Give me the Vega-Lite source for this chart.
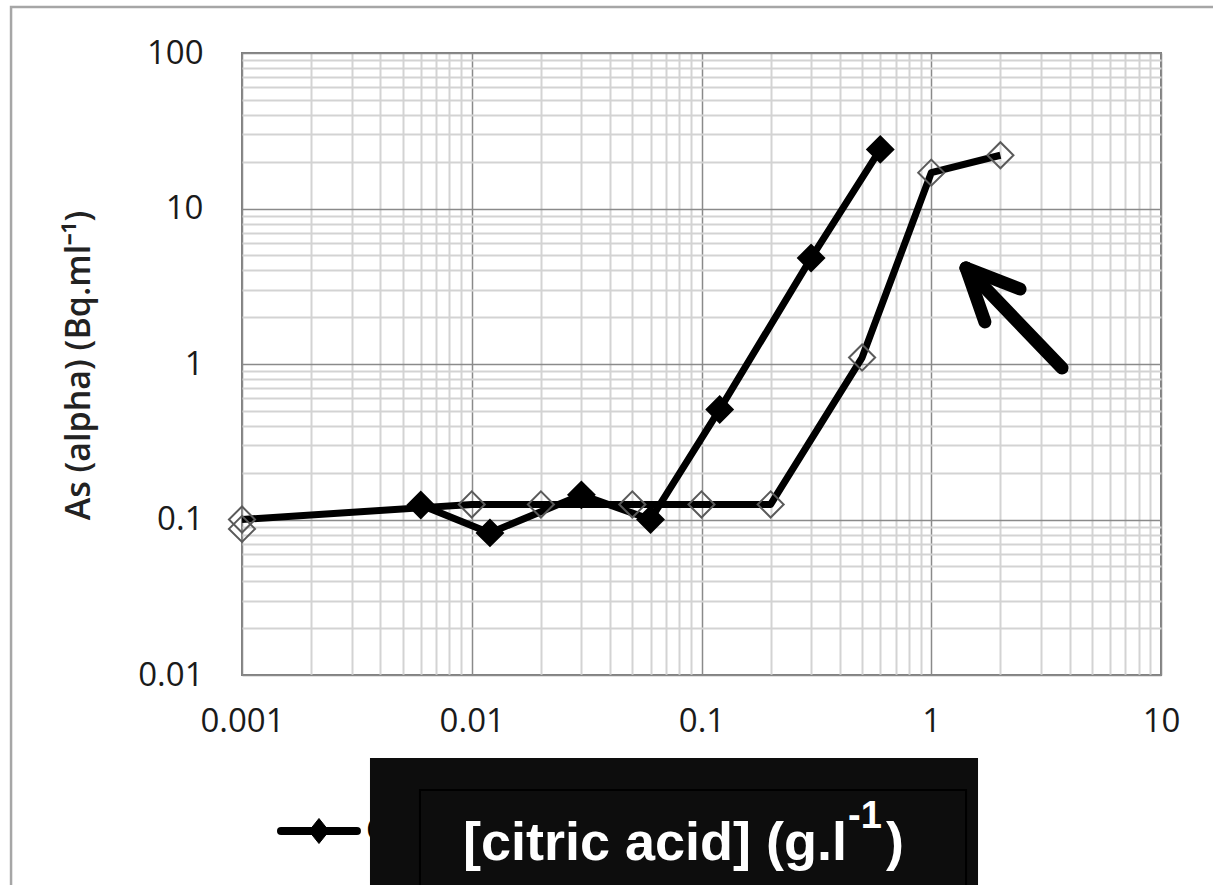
{
  "$schema": "https://vega.github.io/schema/vega-lite/v6.json",
  "width": 919,
  "height": 622,
  "autosize": {"type": "none"},
  "padding": {"left": 242, "top": 53, "right": 52, "bottom": 210},
  "background": "white",
  "config": {
    "view": {"stroke": "#7f7f7f", "strokeWidth": 2}
  },
  "datasets": {
    "pts": [
      {"series": "C1", "x": 0.006, "y": 0.124},
      {"series": "C1", "x": 0.012, "y": 0.082},
      {"series": "C1", "x": 0.03, "y": 0.144},
      {"series": "C1", "x": 0.06, "y": 0.1},
      {"series": "C1", "x": 0.12, "y": 0.51},
      {"series": "C1", "x": 0.3, "y": 4.8},
      {"series": "C1", "x": 0.6, "y": 24},
      {"series": "C2", "x": 0.001, "y": 0.1},
      {"series": "C2", "x": 0.01, "y": 0.125},
      {"series": "C2", "x": 0.02, "y": 0.125},
      {"series": "C2", "x": 0.05, "y": 0.125},
      {"series": "C2", "x": 0.1, "y": 0.125},
      {"series": "C2", "x": 0.2, "y": 0.125},
      {"series": "C2", "x": 0.5, "y": 1.1},
      {"series": "C2", "x": 1, "y": 17},
      {"series": "C2", "x": 2, "y": 22},
      {"series": "C2 (repeat)", "x": 0.001, "y": 0.087}
    ]
  },
  "layer": [
    {
      "data": {"name": "pts"},
      "mark": {"type": "line", "stroke": "#000000", "strokeWidth": 7, "strokeJoin": "round"},
      "encoding": {
        "x": {
          "field": "x", "type": "quantitative",
          "scale": {"type": "log", "domain": [0.001, 10]},
          "axis": {
            "title": null,
            "values": [0.001,0.002,0.003,0.004,0.005,0.006,0.007,0.008,0.009,0.01,0.02,0.03,0.04,0.05,0.06,0.07,0.08,0.09,0.1,0.2,0.3,0.4,0.5,0.6,0.7,0.8,0.9,1,2,3,4,5,6,7,8,9,10],
            "labelExpr": "abs(log(datum.value)/LN10 - round(log(datum.value)/LN10)) < 0.001 ? format(datum.value, '~g') : ''",
            "grid": true,
            "gridColor": {"condition": {"test": "abs(log(datum.value)/LN10 - round(log(datum.value)/LN10)) < 0.001", "value": "#8a8a8a"}, "value": "#d3d3d3"},
            "gridWidth": {"condition": {"test": "abs(log(datum.value)/LN10 - round(log(datum.value)/LN10)) < 0.001", "value": 1.5}, "value": 2},
            "ticks": false,
            "tickSize": 0,
            "domain": false,
            "labelFont": "Open Sans",
            "labelFontSize": 33,
            "labelColor": "#1a1a1a",
            "labelPadding": 30,
            "labelOverlap": false,
            "labelBound": false,
            "labelFlush": false
          }
        },
        "y": {
          "field": "y", "type": "quantitative",
          "scale": {"type": "log", "domain": [0.01, 100]},
          "axis": {
            "title": "As (alpha) (Bq.ml⁻¹)",
            "values": [0.01,0.02,0.03,0.04,0.05,0.06,0.07,0.08,0.09,0.1,0.2,0.3,0.4,0.5,0.6,0.7,0.8,0.9,1,2,3,4,5,6,7,8,9,10,20,30,40,50,60,70,80,90,100],
            "labelExpr": "abs(log(datum.value)/LN10 - round(log(datum.value)/LN10)) < 0.001 ? format(datum.value, '~g') : ''",
            "grid": true,
            "gridColor": {"condition": {"test": "abs(log(datum.value)/LN10 - round(log(datum.value)/LN10)) < 0.001", "value": "#8a8a8a"}, "value": "#d3d3d3"},
            "gridWidth": {"condition": {"test": "abs(log(datum.value)/LN10 - round(log(datum.value)/LN10)) < 0.001", "value": 1.5}, "value": 2},
            "ticks": false,
            "tickSize": 0,
            "domain": false,
            "labelFont": "Open Sans",
            "labelFontSize": 33,
            "labelColor": "#1a1a1a",
            "labelPadding": 39,
            "labelOverlap": false,
            "labelBound": false,
            "labelFlush": false,
            "titleFont": "Open Sans",
            "titleFontSize": 34,
            "titleFontWeight": 600,
            "titleColor": "#222222",
            "titleX": -146,
            "titleY": 312
          }
        },
        "detail": {"field": "series", "type": "nominal"}
      }
    },
    {
      "data": {"name": "pts"},
      "mark": {"type": "point", "shape": "diamond", "size": 680, "filled": false, "opacity": 1, "strokeWidth": 2},
      "encoding": {
        "x": {"field": "x", "type": "quantitative", "scale": {"type": "log", "domain": [0.001, 10]}},
        "y": {"field": "y", "type": "quantitative", "scale": {"type": "log", "domain": [0.01, 100]}},
        "fill": {
          "field": "series", "type": "nominal",
          "scale": {"domain": ["C1", "C2", "C2 (repeat)"], "range": ["#000000", "transparent", "transparent"]},
          "legend": null
        },
        "stroke": {
          "field": "series", "type": "nominal",
          "scale": {"domain": ["C1", "C2", "C2 (repeat)"], "range": ["#000000", "#5a5a5a", "#5a5a5a"]},
          "legend": null
        }
      }
    },
    {
      "data": {"values": [{}]},
      "mark": {"type": "rect", "filled": false, "stroke": "#a6a6a6", "strokeWidth": 2.5},
      "encoding": {
        "x": {"datum": 0.0000988, "type": "quantitative", "scale": {"type": "log"}},
        "x2": {"datum": 100000},
        "y": {"datum": 197.6, "type": "quantitative", "scale": {"type": "log"}},
        "y2": {"datum": 0.000001}
      }
    },
    {
      "data": {"values": [{}]},
      "mark": {"type": "rule", "stroke": "#000000", "strokeWidth": 13, "strokeCap": "round"},
      "encoding": {
        "x": {"datum": 1.417, "type": "quantitative", "scale": {"type": "log"}},
        "y": {"datum": 4.145, "type": "quantitative", "scale": {"type": "log"}},
        "x2": {"datum": 3.708},
        "y2": {"datum": 0.9426}
      }
    },
    {
      "data": {"values": [{}]},
      "mark": {"type": "rule", "stroke": "#000000", "strokeWidth": 13, "strokeCap": "round"},
      "encoding": {
        "x": {"datum": 1.417, "type": "quantitative", "scale": {"type": "log"}},
        "y": {"datum": 4.145, "type": "quantitative", "scale": {"type": "log"}},
        "x2": {"datum": 1.713},
        "y2": {"datum": 1.863}
      }
    },
    {
      "data": {"values": [{}]},
      "mark": {"type": "rule", "stroke": "#000000", "strokeWidth": 13, "strokeCap": "round"},
      "encoding": {
        "x": {"datum": 1.417, "type": "quantitative", "scale": {"type": "log"}},
        "y": {"datum": 4.145, "type": "quantitative", "scale": {"type": "log"}},
        "x2": {"datum": 2.434},
        "y2": {"datum": 3.035}
      }
    },
    {
      "data": {"values": [{}]},
      "mark": {"type": "rule", "stroke": "#000000", "strokeWidth": 8, "strokeCap": "round"},
      "encoding": {
        "x": {"datum": 0.001478, "type": "quantitative", "scale": {"type": "log"}},
        "x2": {"datum": 0.003165},
        "y": {"datum": 0.0009926, "type": "quantitative", "scale": {"type": "log"}}
      }
    },
    {
      "data": {"values": [{}]},
      "mark": {"type": "point", "shape": "M0,-1.25L1,0L0,1.25L-1,0Z", "size": 400, "filled": true, "fill": "#000000", "stroke": "#000000", "strokeWidth": 1, "opacity": 1},
      "encoding": {
        "x": {"datum": 0.002163, "type": "quantitative", "scale": {"type": "log"}},
        "y": {"datum": 0.0009926, "type": "quantitative", "scale": {"type": "log"}}
      }
    },
    {
      "data": {"values": [{}]},
      "mark": {"type": "text", "text": "C1", "font": "Open Sans", "fontSize": 32, "fill": "#000000", "align": "left", "baseline": "middle"},
      "encoding": {
        "x": {"datum": 0.003465, "type": "quantitative", "scale": {"type": "log"}},
        "y": {"datum": 0.0009926, "type": "quantitative", "scale": {"type": "log"}}
      }
    },
    {
      "data": {"values": [{}]},
      "mark": {"type": "rect", "fill": "#0d0d0d"},
      "encoding": {
        "x": {"datum": 0.003606, "type": "quantitative", "scale": {"type": "log"}},
        "x2": {"datum": 1.598},
        "y": {"datum": 0.002925, "type": "quantitative", "scale": {"type": "log"}},
        "y2": {"datum": 0.0003}
      }
    },
    {
      "data": {"values": [{}]},
      "mark": {"type": "rect", "filled": false, "stroke": "#000000", "strokeWidth": 2},
      "encoding": {
        "x": {"datum": 0.005953, "type": "quantitative", "scale": {"type": "log"}},
        "x2": {"datum": 1.417},
        "y": {"datum": 0.001822, "type": "quantitative", "scale": {"type": "log"}},
        "y2": {"datum": 0.0003}
      }
    },
    {
      "data": {"values": [{}]},
      "mark": {"type": "text", "text": "[citric acid] (g.l", "font": "Liberation Sans", "fontWeight": "bold", "fontSize": 54, "fill": "#ffffff", "align": "left", "baseline": "alphabetic"},
      "encoding": {
        "x": {"datum": 0.00916, "type": "quantitative", "scale": {"type": "log"}},
        "y": {"datum": 0.000646, "type": "quantitative", "scale": {"type": "log"}}
      }
    },
    {
      "data": {"values": [{}]},
      "mark": {"type": "text", "text": "-1", "font": "Liberation Sans", "fontWeight": "bold", "fontSize": 38, "fill": "#ffffff", "align": "left", "baseline": "alphabetic"},
      "encoding": {
        "x": {"datum": 0.4341, "type": "quantitative", "scale": {"type": "log"}},
        "y": {"datum": 0.001037, "type": "quantitative", "scale": {"type": "log"}}
      }
    },
    {
      "data": {"values": [{}]},
      "mark": {"type": "text", "text": ")", "font": "Liberation Sans", "fontWeight": "bold", "fontSize": 54, "fill": "#ffffff", "align": "left", "baseline": "alphabetic"},
      "encoding": {
        "x": {"datum": 0.6353, "type": "quantitative", "scale": {"type": "log"}},
        "y": {"datum": 0.000646, "type": "quantitative", "scale": {"type": "log"}}
      }
    }
  ]
}
